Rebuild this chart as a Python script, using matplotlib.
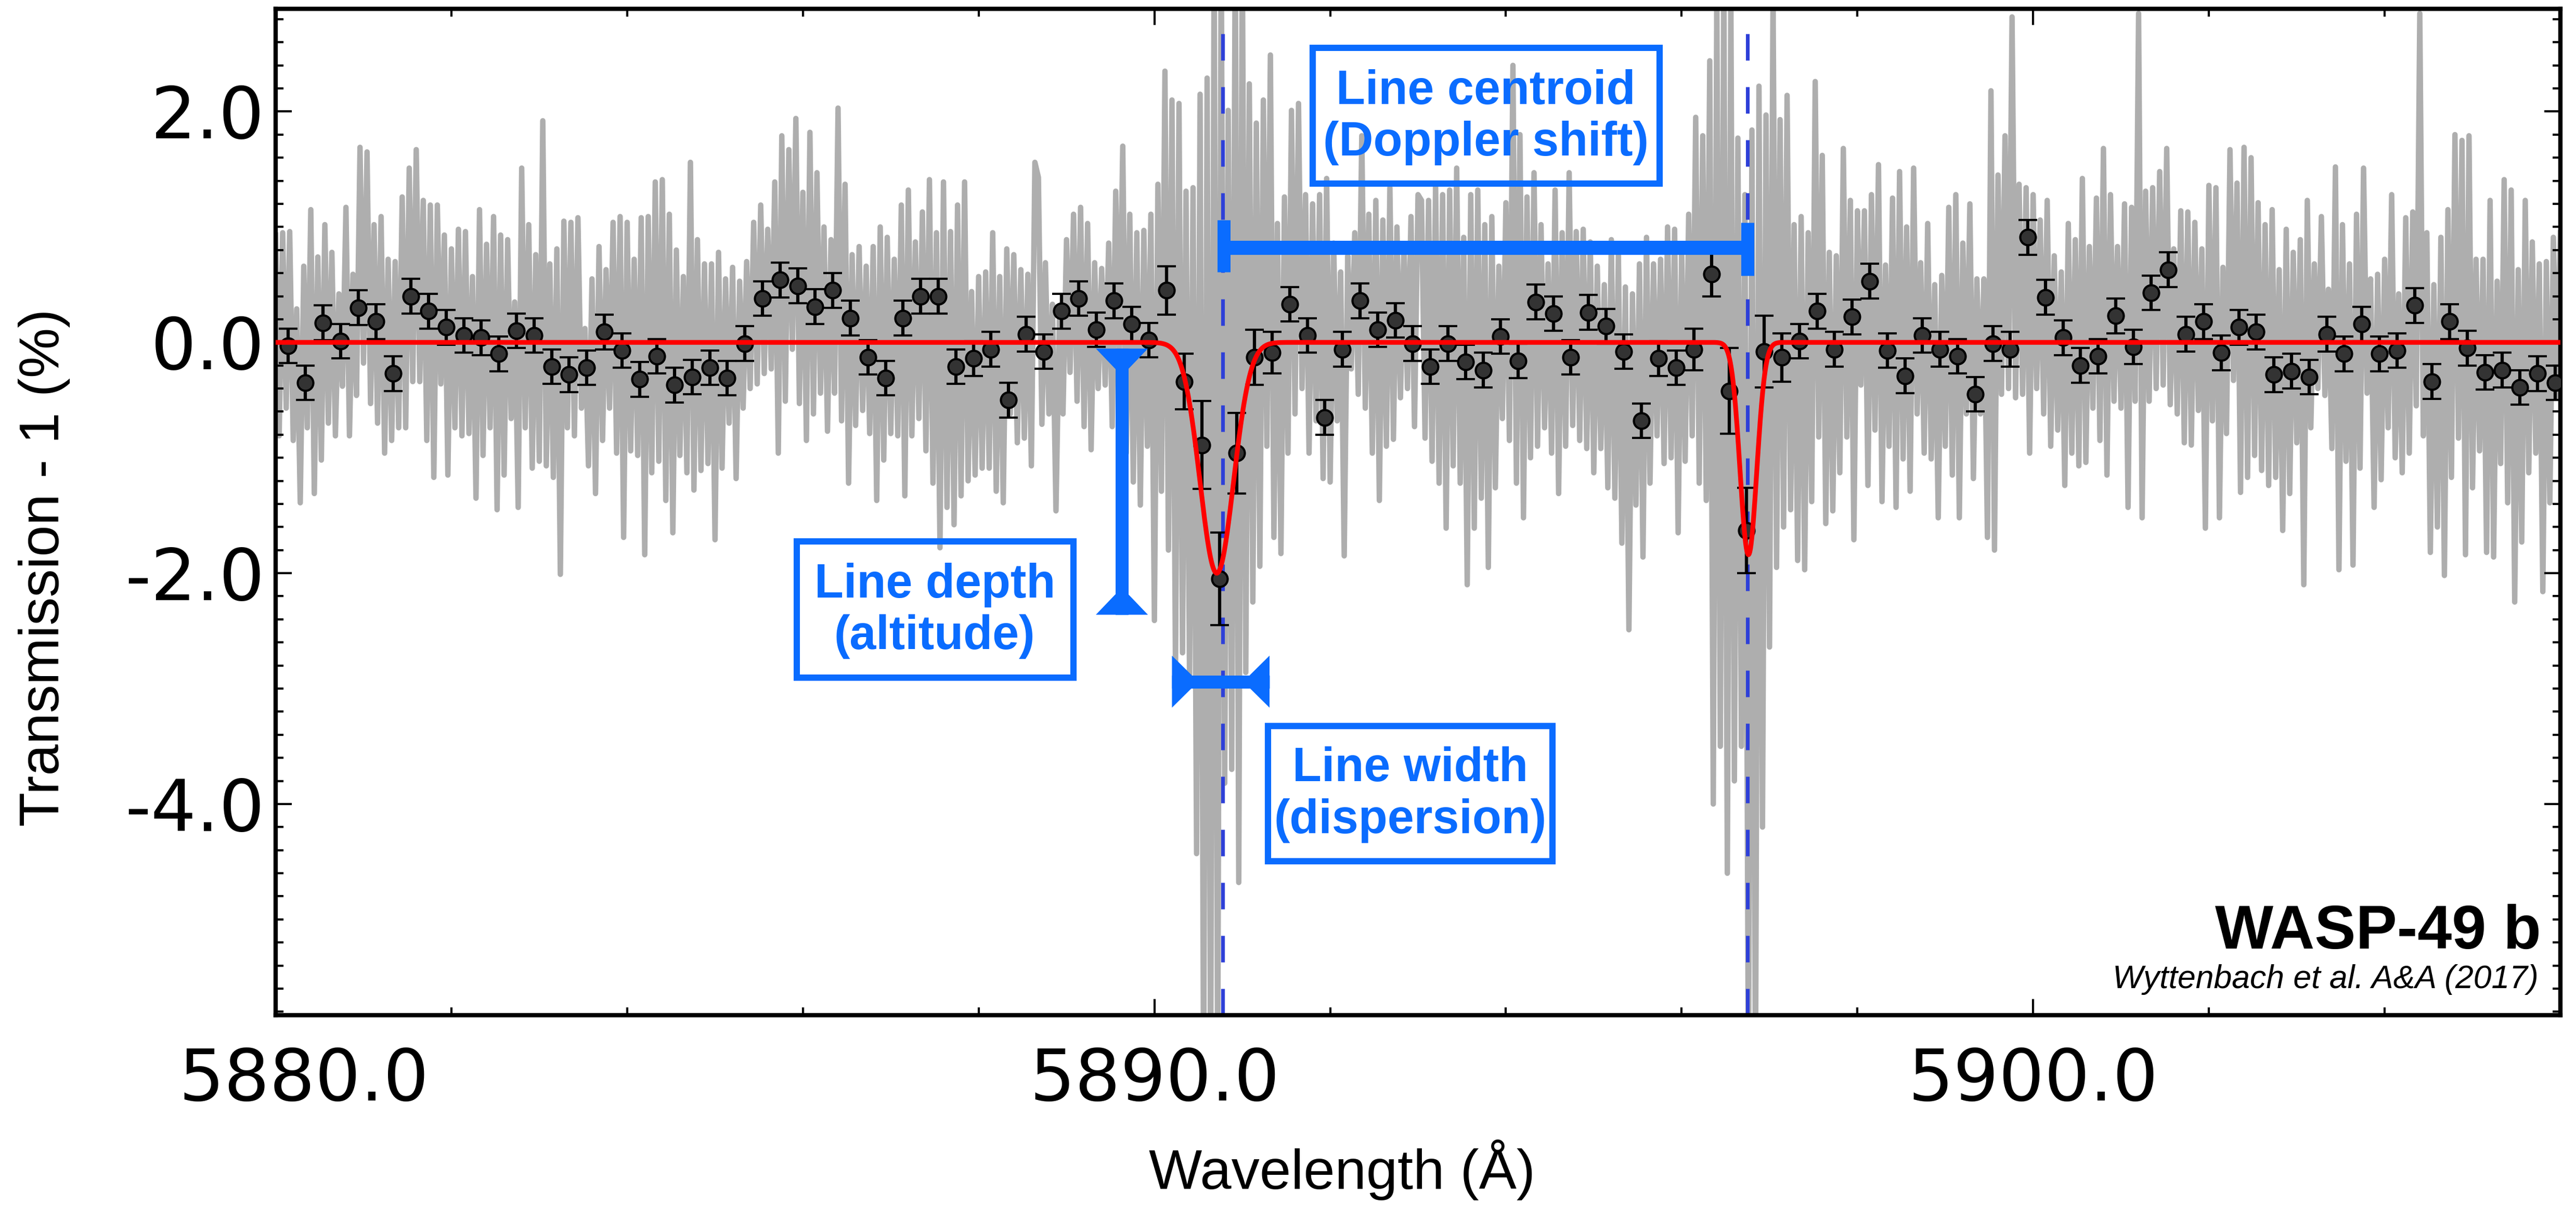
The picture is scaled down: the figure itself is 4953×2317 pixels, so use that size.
import numpy as np
import matplotlib
matplotlib.use("Agg")
import matplotlib.pyplot as plt
from matplotlib import transforms
from matplotlib.patches import Polygon, Rectangle

plt.rcParams['axes.unicode_minus'] = False
plt.rcParams['font.family'] = ['DejaVu Sans']

# ---------------- data: high-resolution transmission spectrum (gray) ----------------
spec_start = 5880.0
spec_step = 0.04
spec_a = [0.93,-0.81,0.95,-0.57,0.96,-0.85,0.29,-1.39,0.66,-0.74,1.15,-1.31,0.74,-1.02,1.02,-0.70,0.78,-0.81,0.42,-0.38,
          1.17,-0.81,0.59,-0.46,1.69,-0.18,1.65,-0.53,1.02,-0.70,1.09,-0.96,0.72,-0.85,0.70,-0.74,1.26,-0.74,1.51,-0.34,
          1.67,-0.34,1.23,-0.85,1.19,-1.17,1.19,-0.36,0.93,-1.15,0.81,-0.74,0.98,-0.81,0.96,-0.79,0.57,-1.35,1.15,-0.98,
          0.85,-0.74,1.09,-1.45,0.93,-1.15,0.89,-0.66,0.35,-1.43,1.51,-0.74,1.02,-1.09,0.76,-1.03,1.92,-1.07,0.68,-1.17,
          0.81,-2.01,1.05,-0.74,1.04,-0.81,1.08,-0.57,0.12,-1.07,0.55,-1.31,0.83,-0.85,0.63,-0.57,1.04,-0.96,1.09,-1.69,
          1.04,-0.94,0.72,-0.98,1.08,-1.84,1.09,-1.13,1.39]
spec_b = [-1.03,1.41,-1.37,1.11,-1.65,0.80,-0.98,0.57,-1.13,1.56,-1.28,0.89,-1.11,0.68,-1.05,0.68,-1.71,0.78,-1.09,0.55,
          -0.70,0.65,-1.18,0.53,-0.57,0.70,-0.40,1.04,-0.36,1.19,-0.27,0.98,-0.23,1.39,-0.96,1.79,-0.51,1.67,-0.06,1.94,
          -0.53,1.30,-0.85,1.82,-0.62,1.47,-0.44,1.00,-0.77,0.89,-0.44,2.03,-0.68,1.37,-1.22,0.76,-0.72,0.83,-0.59,0.66,
          -0.79,0.83,-1.37,1.00,-1.02,0.91,-0.79,0.72,-0.81,1.19,-1.33,1.32,-0.81,0.87,-0.66,1.13,-0.94,1.41,-1.22,0.95,
          -1.78,1.39,-1.43,0.96,-1.58,1.19,-1.33,1.39,-1.20,0.44,-1.15,0.57,-1.09,0.61,-1.09,0.95,-1.29,0.57,-1.39,0.81,
          -0.62,0.76,-0.87,0.63,-0.83,0.59,-1.07,1.56,1.43]
spec_c = [-0.71,0.69,-0.62,0.33,-1.46,0.27,-0.62,0.89,-0.26,1.11,-0.51,1.17,-0.73,1.03,-0.93,0.69,-0.40,0.64,-0.37,0.86,
          -0.73,1.31,-0.20,1.70,-0.96,1.11,-1.21,0.95,-1.41,0.97,-0.90,1.11,-2.41,1.37,-1.29,2.35,-1.80,2.10,-2.86,2.07,
          -2.69,1.31,-2.92,1.34,-4.43,2.15,-6.5,2.29,-6.5,3.5,-6.5,3.5,-3.82,2.01,-3.70,3.5,-4.68,3.5,-2.86,2.24,
          -2.25,1.90,-1.94,2.10,-0.90,2.49,-1.69,1.03,-1.83,1.26,-0.96,2.01,-0.62,2.07,-0.40,1.28,-0.96,1.20,-0.68,1.28,
          -1.18,1.42,-1.21,0.86,-0.68,0.61,-1.85,0.75,-0.23,0.95,-0.45,1.79,-0.57,1.11,-0.96,1.23,-1.37,1.06,-0.90,1.34,
          -0.84,1.00,-0.48,0.84,-0.40,1.09,-0.73,1.28,1.23]
spec_d = [-0.83,1.23,-1.03,1.36,-1.22,1.28,-1.61,1.32,-1.07,1.51,-1.22,0.91,-2.10,1.28,-1.61,1.32,-1.35,1.02,-1.95,1.09,
          -1.26,0.66,-0.66,1.21,-0.85,2.40,-1.22,1.80,-1.52,1.26,-1.00,1.47,-0.90,1.02,-0.74,0.68,-0.96,1.32,-1.31,0.95,
          -0.90,1.47,-0.72,0.96,-0.85,0.98,-0.92,0.87,-1.13,0.66,-0.92,0.50,-1.26,0.89,-1.35,0.76,-1.74,0.48,-2.49,0.42,
          -1.41,0.68,-1.86,0.91,-1.22,0.68,-0.81,0.72,-1.05,1.00,-1.00,0.98,-1.65,0.81,-1.03,1.11,-0.81,1.95,-1.22,1.79,
          -1.37,2.44,-4.0,3.0,-3.5,3.2,-4.6,3.0,-3.8,1.77,-3.5,1.28,-6.5,1.84,-6.5,2.22,-4.2,1.97,-2.64,3.0,
          -1.95,1.93,-1.60,2.14,-1.45,1.02,-1.89,1.09]
spec_e = [-1.97,0.95,-1.38,2.26,-0.82,1.62,-1.57,0.78,-1.46,0.75,-1.13,1.68,-0.82,1.23,-1.71,1.14,-0.37,1.14,-1.24,1.28,
          -0.76,1.54,-1.38,0.67,-0.90,1.25,-1.43,1.48,-1.01,1.00,-1.29,1.51,-0.62,0.69,-0.96,1.03,-1.01,0.50,-1.52,0.58,
          -0.90,1.17,-1.15,1.28,-1.52,0.86,-0.62,1.20,-1.18,0.55,-0.62,0.55,-1.69,2.18,-1.80,1.45,-0.45,1.79,-0.40,2.82,
          -0.48,1.37,-0.45,1.34,-0.96,1.28,-0.40,1.06,-0.62,1.23,-0.90,0.75,-0.76,0.61,-1.24,1.03,-0.96,0.89,-1.07,1.42,
          -1.04,0.83,-0.57,1.25,-0.85,1.68,-1.15,1.28,-0.51,0.83,-0.57,1.20,-1.43,1.17,-0.51,2.85,-1.52,1.31,-0.51,1.34,
          -0.40,1.48,-0.37,1.68,-0.54,0.81,-0.62,1.14,-0.87]
spec_f = [1.13,-0.89,1.04,-0.59,0.81,-1.61,1.36,-0.68,1.34,-1.52,0.65,-0.79,1.67,-0.33,1.38,-1.30,1.69,-1.17,1.60,-0.98,
          1.21,-1.11,1.02,-1.24,1.15,-1.17,0.63,-1.63,0.98,-1.31,0.78,-0.87,0.89,-2.10,1.23,-0.74,0.68,-0.40,1.09,-0.46,
          0.46,-0.92,1.52,-1.97,1.02,-1.03,0.68,-1.93,1.11,-1.09,1.51,-0.44,0.55,-1.43,0.59,-1.19,0.72,-0.74,1.28,-1.00,
          0.42,-1.13,1.08,-0.96,1.13,-0.55,2.85,-0.81,0.95,-1.82,0.50,-1.60,0.91,-2.02,1.15,-1.17,1.80,-0.83,1.75,-1.84,
          1.79,-1.26,0.72,-0.94,0.72,-1.82,1.23,-1.86,0.53,-1.05,1.41,-1.39,1.32,-2.25,0.63,-1.73,1.23,-1.13,0.87,-0.96,
          0.68,-2.16,0.70,-1.39,0.91,-0.47,0.95]
spec_flux = spec_a + spec_b + spec_c + spec_d + spec_e + spec_f

# ---------------- data: binned points (0.2 A bins) ----------------
bin_start = 5880.14
bin_step = 0.2
bin_flux = [-0.03, -0.35, 0.17, 0.01, 0.30, 0.18, -0.27, 0.40, 0.27, 0.13,
            0.06, 0.04, -0.10, 0.10, 0.06, -0.21, -0.28, -0.22, 0.09, -0.07,
            -0.32, -0.12, -0.37, -0.30, -0.22, -0.31, -0.01, 0.38, 0.54, 0.49,
            0.31, 0.45, 0.21, -0.13, -0.31, 0.21, 0.40, 0.40, -0.21, -0.14,
            -0.06, -0.50, 0.07, -0.08, 0.27, 0.38, 0.11, 0.36, 0.16, 0.02,
            0.45, -0.34, -0.89, -2.05, -0.96, -0.13, -0.09, 0.33, 0.06, -0.65,
            -0.06, 0.36, 0.11, 0.19, -0.01, -0.21, -0.01, -0.17, -0.24, 0.05,
            -0.16, 0.35, 0.25, -0.13, 0.26, 0.14, -0.08, -0.68, -0.14, -0.22,
            -0.06, 0.59, -0.42, -1.63, -0.08, -0.13, 0.01, 0.27, -0.06, 0.22,
            0.53, -0.07, -0.29, 0.06, -0.06, -0.12, -0.45, -0.01, -0.06, 0.91,
            0.39, 0.04, -0.20, -0.12, 0.23, -0.04, 0.43, 0.63, 0.07, 0.18,
            -0.09, 0.13, 0.09, -0.28, -0.25, -0.30, 0.07, -0.10, 0.16, -0.10,
            -0.07, 0.32, -0.34, 0.18, -0.05, -0.26, -0.24, -0.39, -0.27, -0.35]
bin_err = [0.15, 0.15, 0.15, 0.15, 0.15, 0.15, 0.15, 0.15, 0.15, 0.15,
           0.15, 0.15, 0.15, 0.15, 0.15, 0.15, 0.15, 0.15, 0.15, 0.15,
           0.15, 0.15, 0.15, 0.15, 0.15, 0.15, 0.15, 0.15, 0.15, 0.15,
           0.15, 0.15, 0.15, 0.15, 0.15, 0.15, 0.15, 0.15, 0.15, 0.15,
           0.15, 0.15, 0.15, 0.15, 0.15, 0.15, 0.15, 0.15, 0.15, 0.15,
           0.21, 0.24, 0.38, 0.40, 0.35, 0.24, 0.18, 0.15, 0.15, 0.15,
           0.15, 0.15, 0.15, 0.15, 0.15, 0.15, 0.15, 0.15, 0.15, 0.15,
           0.15, 0.15, 0.15, 0.15, 0.15, 0.15, 0.15, 0.15, 0.15, 0.15,
           0.18, 0.19, 0.37, 0.37, 0.31, 0.21, 0.15, 0.15, 0.15, 0.15,
           0.15, 0.15, 0.15, 0.15, 0.15, 0.15, 0.15, 0.15, 0.15, 0.15,
           0.15, 0.15, 0.15, 0.15, 0.15, 0.15, 0.15, 0.15, 0.15, 0.15,
           0.15, 0.15, 0.15, 0.15, 0.15, 0.15, 0.15, 0.15, 0.15, 0.15,
           0.15, 0.15, 0.15, 0.15, 0.15, 0.15, 0.15, 0.15, 0.15, 0.15]

# ---------------- data: Gaussian model (red) and line positions ----------------
line_centers = [5890.71, 5896.76]
line_depths = [2.00, 1.84]
line_sigmas = [0.19, 0.095]
na_lines = [5890.78, 5896.75]

x_ticks = [5880.0, 5890.0, 5900.0]
y_ticks = [2.0, 0.0, -2.0, -4.0]
x_range = (5880.0, 5906.0)
y_range = (-5.83, 2.89)

# ---------------- annotations ----------------
BLUE = '#0a6cff'
ann_texts = ["Line centroid\n(Doppler shift)", "Line depth\n(altitude)", "Line width\n(dispersion)"]
ann_text_pos = [(5893.77, 1.95), (5887.50, -2.325), (5892.91, -3.92)]
ann_boxes = [(5891.80, 1.374, 5895.75, 2.554), (5885.93, -2.905, 5889.08, -1.725),
             (5891.29, -4.495, 5894.53, -3.324)]
centroid_bar = (5890.79, 5896.75, 0.82)        # x0, x1, y
centroid_caps = [(5890.79, 0.61, 1.06), (5896.75, 0.58, 1.04)]
depth_bar = (5889.63, -0.054, -2.36)           # x, ytop, ybottom
width_bar = (5890.20, 5891.31, -2.94)          # x0, x1, y

# ---------------- figure ----------------
W, H, DPI = 4953, 2317, 300
fig = plt.figure(figsize=(W / DPI, H / DPI), dpi=DPI)
ax = fig.add_axes([530 / W, 1 - 1952 / H, (4923 - 530) / W, (1952 - 17) / H])

wave = spec_start + spec_step * np.arange(len(spec_flux))
ax.plot(wave, spec_flux, color='#aeaeae', lw=2.5, zorder=1)

for xl in na_lines:
    ax.axvline(xl, color='#2e40d8', lw=1.7, ls=(0, (7.2, 7.2)), zorder=2)

bwave = bin_start + bin_step * np.arange(len(bin_flux))
ax.errorbar(bwave, bin_flux, yerr=bin_err, fmt='o', ms=7.2, mfc='#333333', mec='black',
            mew=1.0, ecolor='black', elinewidth=1.5, capsize=4.4, capthick=1.5, zorder=3)

model_x = np.linspace(x_range[0], x_range[1], 5201)
model = np.zeros_like(model_x)
for c, d, s in zip(line_centers, line_depths, line_sigmas):
    model -= d * np.exp(-0.5 * ((model_x - c) / s) ** 2)
ax.plot(model_x, model, color='red', lw=2.2, zorder=4)


def flare(x, y, verts_pt):
    tr = transforms.Affine2D().scale(fig.dpi / 72.0) + transforms.ScaledTranslation(x, y, ax.transData)
    p = Polygon(verts_pt, closed=True, transform=tr, facecolor=BLUE, edgecolor='none', zorder=7)
    ax.add_artist(p)


# centroid bar
ax.plot([centroid_bar[0], centroid_bar[1]], [centroid_bar[2], centroid_bar[2]], color=BLUE,
        lw=6.5, solid_capstyle='butt', zorder=7)
for cx, cy0, cy1 in centroid_caps:
    ax.plot([cx, cx], [cy0, cy1], color=BLUE, lw=6.0, solid_capstyle='butt', zorder=7)

# depth bar
dx, dy0, dy1 = depth_bar
ax.plot([dx, dx], [dy0, dy1], color=BLUE, lw=6.0, solid_capstyle='butt', zorder=7)
flare(dx, dy0, [(-12, 0), (12, 0), (3, -9.4), (-3, -9.4)])
flare(dx, dy1, [(-12, 0), (12, 0), (3, 9.4), (-3, 9.4)])

# width bar
wx0, wx1, wy = width_bar
ax.plot([wx0, wx1], [wy, wy], color=BLUE, lw=6.0, solid_capstyle='butt', zorder=7)
flare(wx0, wy, [(0, -12), (0, 12), (9.1, 3), (9.1, -3)])
flare(wx1, wy, [(0, -12), (0, 12), (-9.1, 3), (-9.1, -3)])

for (x0, y0, x1, y1), txt, (tx, ty) in zip(ann_boxes, ann_texts, ann_text_pos):
    ax.add_patch(Rectangle((x0, y0), x1 - x0, y1 - y0, fill=False, edgecolor=BLUE, lw=2.9, zorder=7))
    ax.text(tx, ty, txt, ha='center', va='center', multialignment='center', color=BLUE,
            fontsize=22, fontweight='bold', family=['Liberation Sans', 'DejaVu Sans'],
            linespacing=1.2, zorder=8)

ax.set_xlim(*x_range)
ax.set_ylim(*y_range)
ax.set_xticks(x_ticks)
ax.set_xticklabels(['%.1f' % v for v in x_ticks])
ax.set_yticks(y_ticks)
ax.set_yticklabels(['%.1f' % v for v in y_ticks])
ax.xaxis.set_minor_locator(matplotlib.ticker.MultipleLocator(2))
ax.yaxis.set_minor_locator(matplotlib.ticker.MultipleLocator(0.2))
ax.tick_params(which='both', direction='in', top=True, right=True)
ax.tick_params(which='major', length=7.5, width=1.0)
ax.tick_params(which='minor', length=3.5, width=1.0)
ax.tick_params(axis='x', which='major', labelsize=33, pad=14.5)
ax.tick_params(axis='y', which='major', labelsize=33, pad=5)
for sp in ax.spines.values():
    sp.set_linewidth(2.0)

# the first x tick label sits slightly right of its tick in the reference
first_lbl = ax.get_xticklabels()[0]
first_lbl.set_transform(first_lbl.get_transform() +
                        transforms.ScaledTranslation(13 / 72.0, 0, fig.dpi_scale_trans))

ax.text(0.9916, 0.066, 'WASP-49 b', transform=ax.transAxes, ha='right', va='baseline',
        fontsize=28.5, fontweight='bold', family=['Liberation Sans', 'DejaVu Sans'], zorder=9)
ax.text(0.9904, 0.027, 'Wyttenbach et al. A&A (2017)', transform=ax.transAxes, ha='right',
        va='baseline', fontsize=15, style='italic', family=['Liberation Sans', 'DejaVu Sans'], zorder=9)

fig.text(2580 / W, 1 - 2249 / H, 'Wavelength (Å)', ha='center', va='center', fontsize=26,
         family=['Liberation Sans', 'DejaVu Sans'])
fig.text(85 / W, 1 - 1091 / H, 'Transmission - 1 (%)', rotation=90, ha='center', va='center',
         fontsize=26, family=['Liberation Sans', 'DejaVu Sans'])

fig.savefig('out.png', dpi=DPI, facecolor='white')
